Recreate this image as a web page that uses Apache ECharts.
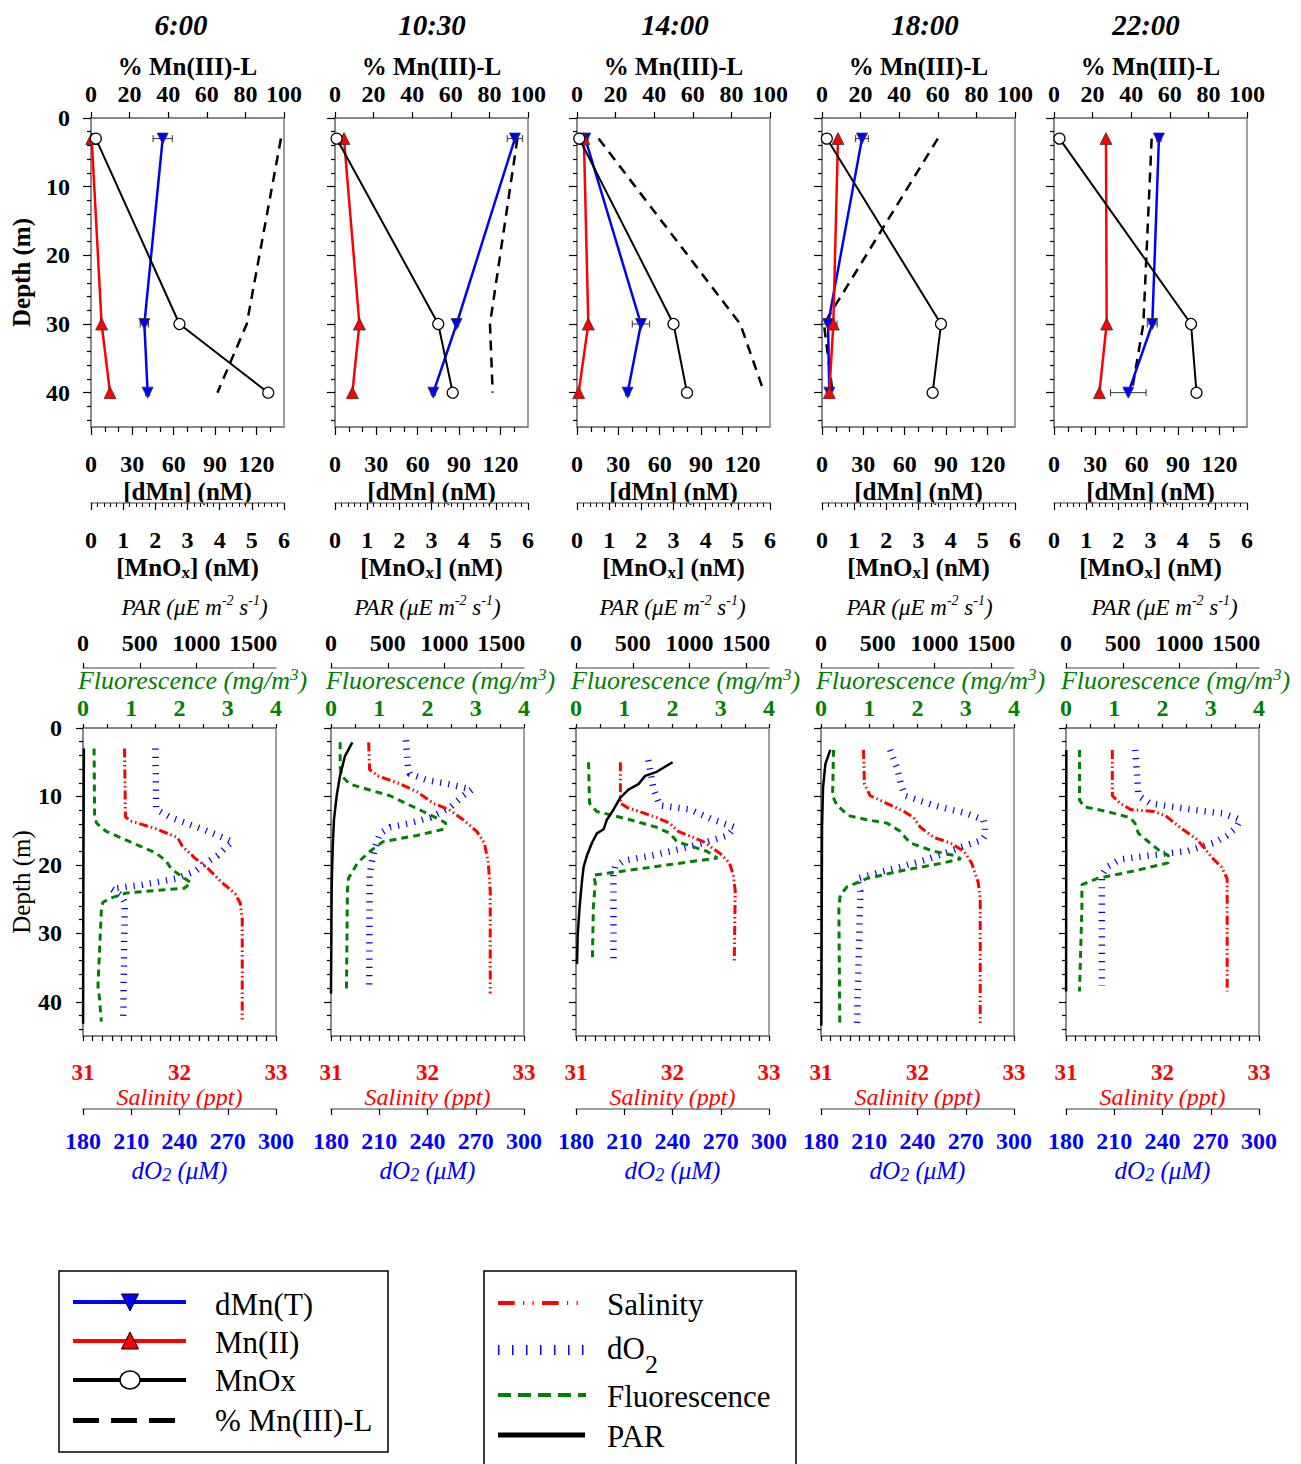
<!DOCTYPE html>
<html>
<head>
<meta charset="utf-8">
<script src="https://cdn.jsdelivr.net/npm/echarts@6/dist/echarts.min.js"></script>
<style>
html,body{margin:0;padding:0;background:#fff;}
#chart{width:1301px;height:1464px;}
</style>
</head>
<body>
<div id="chart"></div>
<script>
// ---------------- DATA ----------------
const times = ['6:00', '10:30', '14:00', '18:00', '22:00'];
const sampleDepths = [3, 30, 40];

// top row (per time: values at 3, 30, 40 m)
const dMnT      = [[52, 38.7, 41.1], [130.5, 88.2, 71.3], [6, 46.4, 36.7], [29, 4.4, 5.3], [76.1, 71.3, 53.9]];
const dMnTErr   = [[7, 3, 1.5], [5.6, 1.5, 1.5], [2, 6.3, 1.5], [4.6, 6.5, 1.5], [1.5, 3.6, 12.9]];
const mnII      = [[0.5, 7.7, 13.8], [6.5, 17.7, 12.6], [5, 8.2, 1.2], [11.6, 8.2, 5.3], [37.7, 38.2, 32.9]];
const mnOx      = [[0.15, 2.75, 5.51], [0.05, 3.21, 3.66], [0.07, 3.0, 3.42], [0.15, 3.70, 3.44], [0.17, 4.26, 4.43]];
const pctMnIIIL = [[98.4, 80.7, 65.5], [94.5, 80.3, 81.7], [11.2, 84.6, 97], [60, 1, 5.5], [50.6, 46.3, 40.2]];

// bottom row profiles: [value, depth]
const salinityProfiles = [
  [[31.43,3],[31.44,13],[31.5,13.6],[31.75,14.7],[31.98,16],[32.03,17.3],[32.16,19],[32.3,20.6],[32.42,22.3],[32.58,24.3],[32.63,25.6],[32.65,28],[32.65,43]],
  [[31.39,2.1],[31.4,6.1],[31.49,7],[31.72,8.2],[31.89,9.3],[32.06,11],[32.22,11.9],[32.37,13.4],[32.51,15.1],[32.59,16.8],[32.63,19.7],[32.65,23.8],[32.65,38.8]],
  [[31.46,5],[31.46,11],[31.53,11.6],[31.84,13.1],[31.97,13.9],[32.06,15.1],[32.32,16.6],[32.49,18.3],[32.59,19.7],[32.63,21.5],[32.65,23.8],[32.64,34.2]],
  [[31.44,3.2],[31.45,8.2],[31.51,9.9],[31.68,11],[31.86,12.2],[31.96,13.1],[32.03,14.5],[32.17,16],[32.34,16.8],[32.48,18],[32.56,19.7],[32.63,22.6],[32.65,24.9],[32.65,43.5]],
  [[31.48,3.2],[31.48,9.9],[31.56,11],[31.67,11.9],[31.91,12.2],[32.03,12.8],[32.18,14.5],[32.36,16.3],[32.46,18],[32.53,19.2],[32.61,20.3],[32.67,22],[32.67,24.9],[32.67,38.5]]
];
const dO2Profiles = [
  [[225,3],[225.5,11.9],[235,13.1],[244,13.9],[254.5,14.8],[263.8,15.7],[273,16.6],[269,17.4],[263.8,18.6],[256.6,19.7],[250,20.9],[238,22],[217,22.9],[197.6,23.5],[203.8,24.4],[206,25.5],[205,42.3]],
  [[226.6,1.8],[228,6.1],[229,6.7],[239.5,7.6],[253,8.2],[267.5,9],[262.3,9.9],[254,11.6],[241.6,13.1],[229,13.9],[216.7,14.5],[210.5,15.4],[207.4,17.4],[205.3,19.7],[204,21.5],[203.8,38]],
  [[225,4.7],[228,8.7],[232,11.3],[250.8,11.9],[265.3,13.4],[278.7,14.5],[274.6,15.7],[259,16.8],[244.6,17.7],[228,18.6],[209.5,19.4],[204.4,20.3],[203.3,21.5],[203.3,34.5]],
  [[223,3.2],[227.2,5.8],[230.3,8.7],[232.3,9.9],[250,11.3],[270.6,12.5],[281,13.4],[282,14.5],[282,15.7],[280,16.4],[270.6,17.1],[260.3,18],[245.8,19.2],[229.2,20.3],[214.8,21.2],[202.3,22],[204.4,23.8],[204.4,24.9],[202.3,43.8]],
  [[223,3.2],[225.1,9.9],[232.3,11],[257.2,11.9],[277.9,12.5],[288.2,13.4],[286.1,14.5],[280,15.7],[271.7,16.8],[255.1,18],[232.3,18.6],[213.7,19.2],[205.5,20.3],[202.3,21.5],[202.3,23.8],[202.3,37.7]]
];
const fluorProfiles = [
  [[0.23,3],[0.24,12.8],[0.28,13.9],[0.48,15.1],[0.97,16.6],[1.52,18.3],[1.72,19.4],[1.83,20.6],[2.07,21.8],[2.24,22.6],[2.1,23.4],[0.9,24.1],[0.55,24.9],[0.41,25.5],[0.38,26.7],[0.31,37.7],[0.34,39.4],[0.38,42.9]],
  [[0.19,2.1],[0.19,5.8],[0.22,7],[0.39,8.2],[1.22,9.9],[1.91,12.2],[2.26,13.4],[2.38,13.9],[2.33,14.8],[1.78,15.7],[1.08,16.6],[0.81,18],[0.55,19.7],[0.36,22],[0.34,23.8],[0.32,38.8]],
  [[0.26,5],[0.28,11],[0.43,12.2],[1.12,13.4],[1.67,14.5],[1.95,15.4],[2.09,16.6],[2.71,18],[2.93,19],[0.36,21.5],[0.4,22.6],[0.36,26.1],[0.34,33.9]],
  [[0.26,3.2],[0.24,9.9],[0.33,11.3],[0.57,12.8],[0.95,13.4],[1.37,13.9],[1.64,15.1],[1.85,16.8],[2.33,18],[2.74,18.6],[2.9,19.1],[2.54,19.7],[1.64,20.9],[0.95,22],[0.54,23.2],[0.4,24.4],[0.37,26.1],[0.39,43.5]],
  [[0.28,3.2],[0.28,10.5],[0.37,11.5],[0.85,12.2],[1.33,13.1],[1.43,13.9],[1.5,15.4],[1.74,16.8],[1.95,18],[2.12,18.6],[2.12,19.7],[1.4,20.9],[0.64,22],[0.33,22.9],[0.33,26.1],[0.28,38.5]]
];
const parProfiles = [
  [[8,3],[6,10],[4,20],[2,30],[1,43.2]],
  [[188,2.1],[123,4.1],[79,7],[50,9.9],[26,13.4],[15,17.4],[6,23.2],[0,38.8]],
  [[851,5],[711,6.4],[609,7],[550,8.2],[462,9],[389,10.2],[331,11.9],[272,13.4],[243,14.8],[184,15.4],[140,16.8],[97,18.6],[67,20.3],[53,22.3],[32,26.1],[15,30.2],[9,34.5]],
  [[82,3.2],[38,5.3],[18,8.7],[9,14.5],[3,43.5]],
  [[3,3.2],[2,15],[1,38.5]]
];

// tick / label values
const depthMajor = [0, 10, 20, 30, 40];
const depthMinor = [2, 4, 6, 8, 12, 14, 16, 18, 22, 24, 26, 28, 32, 34, 36, 38, 42, 44];
const dMnMajor = [0, 30, 60, 90, 120];
const dMnMinor = [10, 20, 40, 50, 70, 80, 100, 110, 130];
const parTicks = [0, 500, 1000, 1500];
const fluorLabels = [0, 1, 2, 3, 4];
const salinityLabels = [31, 32, 33];

// ---------------- LAYOUT / STYLE ----------------
const FONT = '"Liberation Serif", "Times New Roman", serif';
const GRAY = '#808080';
const BLUE = '#0000ff', RED = '#ff0000', GREEN = '#008000';
const topLefts = [91, 335, 577, 822, 1054];
const botLefts = [83, 331, 576, 821, 1066];
const titleX = [181, 432, 675, 925, 1146];
const parNameShift = [30, 0, 0, 4, 4];
const PW = 193;

function plainNum(v) { return String(Math.round(v * 1000) / 1000); }

function valAxis(o) {
  const fs = o.fontSize || 24;
  const ax = {
    type: 'value', gridIndex: o.grid, position: o.pos, offset: o.offset || 0,
    min: o.min, max: o.max, inverse: !!o.inverse,
    splitLine: {show: false}, splitArea: {show: false},
    axisLine: {show: o.line !== false, onZero: false, lineStyle: {color: GRAY, width: 1.5}},
    axisTick: {show: o.tickShow !== false, inside: false, length: o.tickLen || 6, lineStyle: {color: '#000', width: 1.2}},
    axisLabel: {show: o.labelShow !== false, margin: o.margin || 8, color: o.color || '#000',
      fontFamily: FONT, fontWeight: 'bold', fontSize: fs, lineHeight: fs, formatter: plainNum},
    nameMoveOverlap: false,
    silent: true
  };
  if (o.interval != null) ax.interval = o.interval;
  if (o.ticks) ax.axisTick.customValues = o.ticks;
  if (o.labels) ax.axisLabel.customValues = o.labels;
  if (o.minor) ax.minorTick = {show: true, splitNumber: o.minor, length: 4, lineStyle: {color: '#000', width: 1}};
  if (o.name) {
    ax.name = o.name; ax.nameLocation = 'middle'; ax.nameGap = o.nameGap;
    ax.nameTextStyle = o.nameStyle;
    if (o.nameRotate != null) ax.nameRotate = o.nameRotate;
  }
  return ax;
}

const boldName = {fontFamily: FONT, fontWeight: 'bold', fontSize: 25, color: '#000', lineHeight: 25};
function italicName(color, size, lh) {
  return {fontFamily: FONT, fontStyle: 'italic', fontWeight: 'normal', fontSize: size, color: color, lineHeight: lh};
}

const grids = [], xAxes = [], yAxes = [], series = [];

// ---------- top row ----------
for (let i = 0; i < 5; i++) {
  const g = grids.length;
  grids.push({left: topLefts[i], top: 118, width: PW, height: 309, show: true, borderColor: GRAY, borderWidth: 1.5,
    backgroundColor: 'rgba(0,0,0,0)', containLabel: false, outerBoundsMode: 'none'});
  const yMain = yAxes.length;
  yAxes.push(valAxis({grid: g, pos: 'left', min: 0, max: 45, inverse: true, ticks: depthMajor,
    labels: depthMajor, labelShow: i === 0, margin: 21, tickLen: 8,
    name: i === 0 ? 'Depth (m)' : undefined, nameGap: 57, nameRotate: 90, nameStyle: boldName}));
  yAxes.push(valAxis({grid: g, pos: 'left', min: 0, max: 45, inverse: true, ticks: depthMinor,
    labelShow: false, line: false, tickLen: 4}));

  const xPct = xAxes.length;
  xAxes.push(valAxis({grid: g, pos: 'top', min: 0, max: 100, interval: 20, tickLen: 6, margin: 12,
    name: '% Mn(III)-L', nameGap: 39.5, nameStyle: boldName}));
  const xDMn = xAxes.length;
  xAxes.push(valAxis({grid: g, pos: 'bottom', min: 0, max: 140, ticks: dMnMajor, labels: dMnMajor,
    tickLen: 8, margin: 25, name: '[dMn] (nM)', nameGap: 51.5, nameStyle: boldName}));
  xAxes.push(valAxis({grid: g, pos: 'bottom', min: 0, max: 140, ticks: dMnMinor, labelShow: false, line: false, tickLen: 5}));
  const xOx = xAxes.length;
  xAxes.push(valAxis({grid: g, pos: 'bottom', offset: 76, min: 0, max: 6, interval: 1, tickLen: 7, minor: 5, margin: 25,
    name: '[MnO{x|x}] (nM)', nameGap: 50,
    nameStyle: Object.assign({}, boldName, {lineHeight: 28, rich: {x: {fontFamily: FONT, fontWeight: 'bold', fontSize: 17, color: '#000', lineHeight: 14, verticalAlign: 'bottom'}}})}));

  series.push({type: 'line', name: '% Mn(III)-L', xAxisIndex: xPct, yAxisIndex: yMain,
    data: sampleDepths.map((d, k) => [pctMnIIIL[i][k], d]), symbol: 'none',
    lineStyle: {color: '#000', width: 2.5, type: [10, 7]}, z: 2, silent: true});
  series.push({type: 'custom', name: 'dMn(T) error', xAxisIndex: xDMn, yAxisIndex: yMain,
    data: sampleDepths.map((d, k) => [Math.max(0, dMnT[i][k] - dMnTErr[i][k]), dMnT[i][k] + dMnTErr[i][k], d]),
    encode: {x: [0, 1], y: 2}, z: 3, silent: true,
    renderItem: function (params, api) {
      const lo = api.coord([api.value(0), api.value(2)]);
      const hi = api.coord([api.value(1), api.value(2)]);
      const st = {stroke: '#333', lineWidth: 1};
      return {type: 'group', children: [
        {type: 'line', shape: {x1: lo[0], y1: lo[1], x2: hi[0], y2: hi[1]}, style: st},
        {type: 'line', shape: {x1: lo[0], y1: lo[1] - 3.5, x2: lo[0], y2: lo[1] + 3.5}, style: st},
        {type: 'line', shape: {x1: hi[0], y1: hi[1] - 3.5, x2: hi[0], y2: hi[1] + 3.5}, style: st}
      ]};
    }});
  series.push({type: 'line', name: 'dMn(T)', xAxisIndex: xDMn, yAxisIndex: yMain,
    data: sampleDepths.map((d, k) => [dMnT[i][k], d]),
    symbol: 'triangle', symbolRotate: 180, symbolSize: 11,
    itemStyle: {color: BLUE, borderColor: '#333', borderWidth: 0.8},
    lineStyle: {color: BLUE, width: 2.5}, z: 4, silent: true});
  series.push({type: 'line', name: 'Mn(II)', xAxisIndex: xDMn, yAxisIndex: yMain,
    data: sampleDepths.map((d, k) => [mnII[i][k], d]),
    symbol: 'triangle', symbolSize: 12,
    itemStyle: {color: RED, borderColor: '#333', borderWidth: 0.8},
    lineStyle: {color: RED, width: 2.5}, z: 5, silent: true});
  series.push({type: 'line', name: 'MnOx', xAxisIndex: xOx, yAxisIndex: yMain,
    data: sampleDepths.map((d, k) => [mnOx[i][k], d]),
    symbol: 'circle', symbolSize: 11,
    itemStyle: {color: '#fff', borderColor: '#000', borderWidth: 1.2},
    lineStyle: {color: '#000', width: 2}, z: 6, silent: true});
}

// ---------- bottom row ----------
for (let i = 0; i < 5; i++) {
  const g = grids.length;
  grids.push({left: botLefts[i], top: 728, width: PW, height: 308, show: true, borderColor: GRAY, borderWidth: 1.5,
    backgroundColor: 'rgba(0,0,0,0)', containLabel: false, outerBoundsMode: 'none'});
  const yMain = yAxes.length;
  yAxes.push(valAxis({grid: g, pos: 'left', min: 0, max: 45, inverse: true, ticks: depthMajor,
    labels: depthMajor, labelShow: i === 0, margin: 21, tickLen: 7,
    name: i === 0 ? 'Depth (m)' : undefined, nameGap: 49, nameRotate: 90,
    nameStyle: {fontFamily: FONT, fontWeight: 'normal', fontSize: 25, color: '#000', lineHeight: 25}}));
  yAxes.push(valAxis({grid: g, pos: 'left', min: 0, max: 45, inverse: true, ticks: depthMinor,
    labelShow: false, line: false, tickLen: 4}));

  const xFl = xAxes.length;
  xAxes.push(valAxis({grid: g, pos: 'top', min: 0, max: 4, interval: 0.5, labels: fluorLabels, tickLen: 4,
    margin: 8, color: GREEN, name: 'Fluorescence (mg/m{sup|3})', nameGap: 34,
    nameStyle: Object.assign(italicName(GREEN, 26, 28), {padding: [0, 0, 0, 26],
      rich: {sup: {fontFamily: FONT, fontStyle: 'italic', fontSize: 17, color: GREEN, lineHeight: 14, verticalAlign: 'top'}}})}));
  const xPar = xAxes.length;
  xAxes.push(valAxis({grid: g, pos: 'top', offset: 60, min: 0, max: 1700, ticks: parTicks, labels: parTicks, tickLen: 5,
    margin: 13, name: 'PAR (\u03bcE m{sup|-2} s{sup|-1})', nameGap: 47,
    nameStyle: Object.assign(italicName('#000', 23, 28), {padding: [0, 0, 0, parNameShift[i]],
      rich: {sup: {fontFamily: FONT, fontStyle: 'italic', fontSize: 14, color: '#000', lineHeight: 14, verticalAlign: 'top'}}})}));
  const xSal = xAxes.length;
  xAxes.push(valAxis({grid: g, pos: 'bottom', min: 31, max: 33, interval: 0.1, labels: salinityLabels, tickLen: 5,
    margin: 24.5, fontSize: 23, color: RED, name: 'Salinity (ppt)', nameGap: 49, nameStyle: italicName(RED, 24, 24)}));
  const xO2 = xAxes.length;
  xAxes.push(valAxis({grid: g, pos: 'bottom', offset: 73, min: 180, max: 300, interval: 30, tickLen: 6,
    margin: 20, color: BLUE, name: 'dO{sub|2} (\u03bcM)', nameGap: 47,
    nameStyle: Object.assign(italicName(BLUE, 25, 28), {rich: {sub: {fontFamily: FONT, fontStyle: 'italic', fontSize: 18, color: BLUE, lineHeight: 14, verticalAlign: 'bottom'}}})}));

  series.push({type: 'line', name: 'dO2', xAxisIndex: xO2, yAxisIndex: yMain, data: dO2Profiles[i],
    symbol: 'none', lineStyle: {color: BLUE, width: 6.5, type: [1.2, 7]}, z: 2, silent: true});
  series.push({type: 'line', name: 'Salinity', xAxisIndex: xSal, yAxisIndex: yMain, data: salinityProfiles[i],
    symbol: 'none', lineStyle: {color: RED, width: 3, type: [9, 3, 1.5, 3, 1.5, 3]}, z: 3, silent: true});
  series.push({type: 'line', name: 'Fluorescence', xAxisIndex: xFl, yAxisIndex: yMain, data: fluorProfiles[i],
    symbol: 'none', lineStyle: {color: GREEN, width: 3, type: [7, 5]}, z: 4, silent: true});
  series.push({type: 'line', name: 'PAR', xAxisIndex: xPar, yAxisIndex: yMain, data: parProfiles[i],
    symbol: 'none', lineStyle: {color: '#000', width: 2.5}, z: 5, silent: true});
}

// ---------- titles & legends (graphic) ----------
const graphics = [];
times.forEach((t, i) => {
  graphics.push({type: 'text', x: titleX[i], y: 25, silent: true,
    style: {text: t, fontFamily: FONT, fontSize: 29, fontWeight: 'bold', fontStyle: 'italic', fill: '#000', align: 'center', verticalAlign: 'middle'}});
});
function gLine(x1, y1, x2, y2, stroke, lw, dash) {
  const s = {stroke: stroke, lineWidth: lw};
  if (dash) s.lineDash = dash;
  return {type: 'line', silent: true, shape: {x1, y1, x2, y2}, style: s};
}
function gText(x, y, text, rich) {
  const st = {text: text, fontFamily: FONT, fontSize: 31, fill: '#000', align: 'left', verticalAlign: 'middle'};
  if (rich) st.rich = rich;
  return {type: 'text', x: x, y: y, silent: true, style: st};
}
// legend 1
graphics.push({type: 'rect', silent: true, shape: {x: 59, y: 1271, width: 329, height: 181}, style: {fill: 'none', stroke: '#000', lineWidth: 1.5}});
graphics.push(gLine(73, 1302, 186, 1302, BLUE, 4));
graphics.push({type: 'polygon', silent: true, shape: {points: [[121.5, 1294], [138.5, 1294], [130, 1311]]}, style: {fill: BLUE, stroke: '#000', lineWidth: 1}});
graphics.push(gText(215, 1304, 'dMn(T)'));
graphics.push(gLine(73, 1341, 186, 1341, RED, 4));
graphics.push({type: 'polygon', silent: true, shape: {points: [[130, 1332], [121.5, 1349], [138.5, 1349]]}, style: {fill: RED, stroke: '#000', lineWidth: 1}});
graphics.push(gText(215, 1342, 'Mn(II)'));
graphics.push(gLine(73, 1380, 186, 1380, '#000', 4));
graphics.push({type: 'ellipse', silent: true, shape: {cx: 130, cy: 1380, rx: 10, ry: 9}, style: {fill: '#fff', stroke: '#000', lineWidth: 1.5}});
graphics.push(gText(215, 1380, 'MnOx'));
graphics.push(gLine(73, 1420.5, 175, 1420.5, '#000', 5, [26, 12]));
graphics.push(gText(215, 1420, '% Mn(III)-L'));
// legend 2
graphics.push({type: 'rect', silent: true, shape: {x: 484, y: 1271, width: 312, height: 210}, style: {fill: 'none', stroke: '#000', lineWidth: 1.5}});
graphics.push(gLine(498, 1303, 578, 1303, RED, 4, [16.7, 8.3, 1.2, 8.3, 1.2, 8.3]));
graphics.push(gText(607, 1304, 'Salinity'));
graphics.push(gLine(498, 1350, 584, 1350, BLUE, 10, [1.5, 12.5]));
graphics.push(gText(607, 1348, 'dO{sub|2}', {sub: {fontFamily: FONT, fontSize: 26, fill: '#000', lineHeight: 20, verticalAlign: 'bottom', padding: [0, 0, -14, 0]}}));
graphics.push(gLine(498, 1395, 586, 1395, GREEN, 4, [13, 7]));
graphics.push(gText(607, 1396, 'Fluorescence'));
graphics.push(gLine(498, 1435, 585, 1435, '#000', 5));
graphics.push(gText(607, 1436, 'PAR'));

const chart = echarts.init(document.getElementById('chart'), null, {renderer: 'svg', width: 1301, height: 1464});
chart.setOption({
  animation: false,
  backgroundColor: '#fff',
  grid: grids,
  xAxis: xAxes,
  yAxis: yAxes,
  series: series,
  graphic: {elements: graphics}
});
</script>
</body>
</html>
